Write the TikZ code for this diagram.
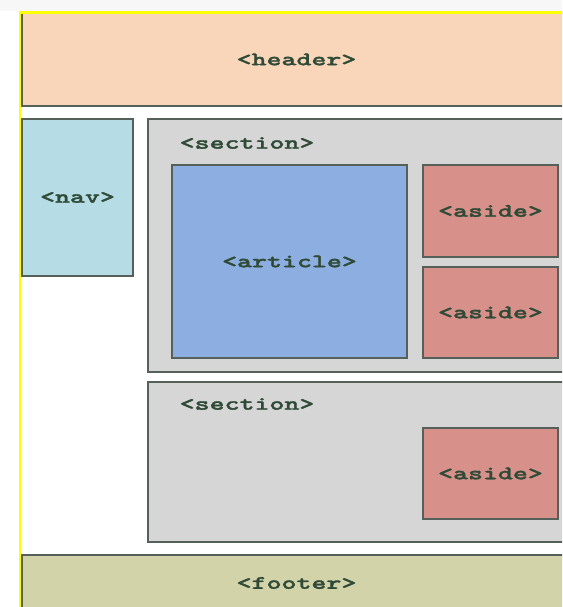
\documentclass[tikz,border=0pt]{standalone}
\usepackage{fontspec}
\newfontfamily\tagfont{lmmonolt10-bold.otf}[FakeStretch=1.5,FakeBold=1.6]
\definecolor{yel}{HTML}{FFFF00}
\definecolor{edge}{HTML}{56605A}
\definecolor{txt}{HTML}{2F4A36}
\definecolor{cheader}{HTML}{F9D6BA}
\definecolor{cnav}{HTML}{B6DDE5}
\definecolor{csection}{HTML}{D6D6D6}
\definecolor{carticle}{HTML}{8CAEE0}
\definecolor{caside}{HTML}{D8908A}
\definecolor{cfooter}{HTML}{D3D3AA}
\definecolor{topbg}{HTML}{F7F7F7}
\tikzset{
  box/.style={draw=edge, line width=1.4pt, inner sep=0pt, outer sep=0pt,
    font=\tagfont\fontsize{19}{21}\selectfont, text=txt},
  lbl/.style={inner sep=0pt, font=\tagfont\fontsize{19}{21}\selectfont, text=txt}
}
\begin{document}
\begin{tikzpicture}[x=1pt,y=-1pt]
\useasboundingbox (0,0) rectangle (562,607);
\clip (0,0) rectangle (562,607);
\fill[white] (0,0) rectangle (562,607);
\fill[topbg] (0,0) rectangle (562,11);
% header
\node[box, fill=cheader, minimum width=549pt, minimum height=93pt] (header) at (296.5,59.5) {<header>};
% nav
\node[box, fill=cnav, minimum width=111pt, minimum height=157pt] (nav) at (77.5,197.5) {<nav>};
% sections
\node[box, fill=csection, minimum width=422pt, minimum height=253pt] (sec1) at (359,245.5) {};
\node[lbl, anchor=west] (sec1lbl) at (179.5,143) {<section>};
\node[box, fill=csection, minimum width=422pt, minimum height=160pt] (sec2) at (359,462) {};
\node[lbl, anchor=west] (sec2lbl) at (179.5,404) {<section>};
% article
\node[box, fill=carticle, minimum width=235pt, minimum height=193pt] (article) at (289.5,261.5) {<article>};
% asides
\node[box, fill=caside, minimum width=135pt, minimum height=92pt] (aside1) at (490.5,211) {<aside>};
\node[box, fill=caside, minimum width=135pt, minimum height=91pt] (aside2) at (490.5,312.5) {<aside>};
\node[box, fill=caside, minimum width=135pt, minimum height=91pt] (aside3) at (490.5,473.5) {<aside>};
% footer
\node[box, fill=cfooter, minimum width=549pt, minimum height=56pt] (footer) at (296.5,583) {<footer>};
% outer yellow container edge
\draw[yel, line width=2.8pt] (20,700) -- (20,12.2) -- (640,12.2);
\end{tikzpicture}
\end{document}
